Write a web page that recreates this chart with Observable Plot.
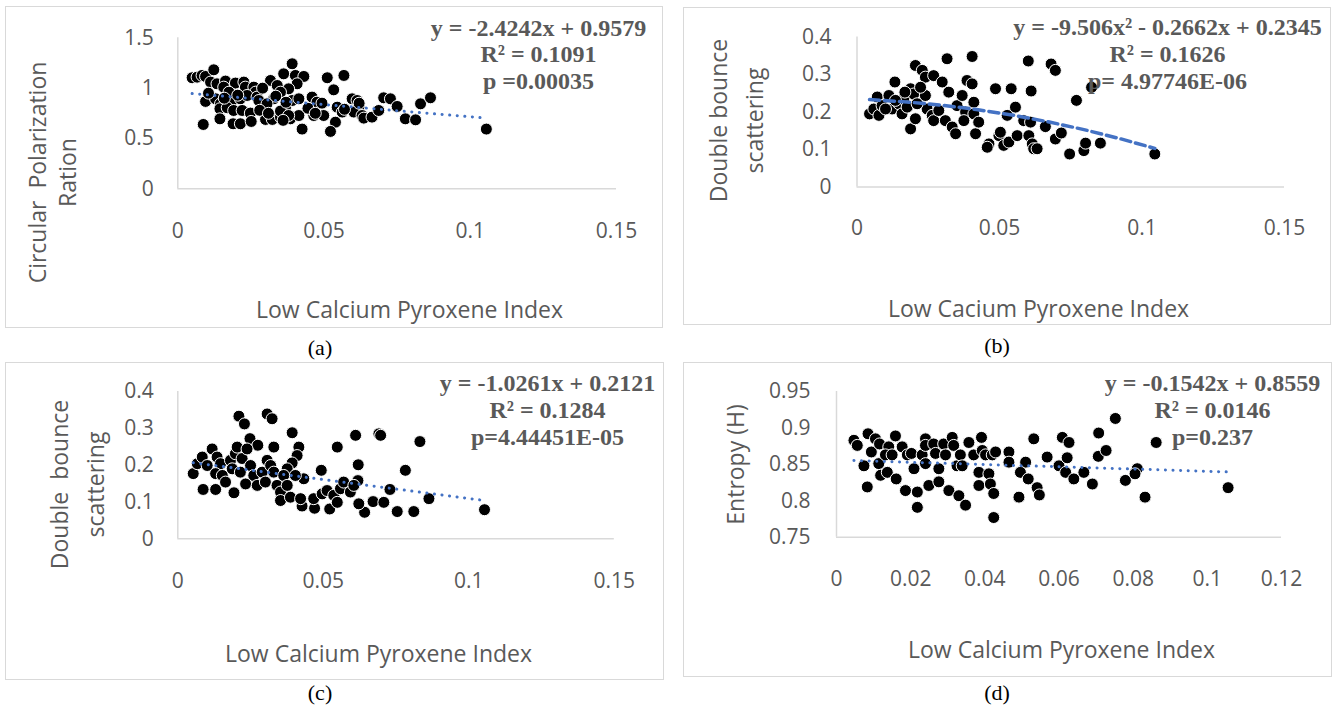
<!DOCTYPE html>
<html><head><meta charset="utf-8">
<script src="https://cdn.jsdelivr.net/npm/d3@7"></script>
<script src="https://cdn.jsdelivr.net/npm/@observablehq/plot@0.6"></script>
<style>
html,body{margin:0;padding:0;background:#fff;}
#root{position:relative;width:1335px;height:709px;overflow:hidden;background:#fff;}
.panel{position:absolute;}
.panel svg{position:absolute;left:0;top:0;}
.frame{position:absolute;left:0;top:0;right:0;bottom:0;border:1.5px solid #d9d9d9;box-sizing:border-box;pointer-events:none;}
.cap{position:absolute;font-family:"Liberation Serif","Times New Roman",serif;font-size:22px;color:#000;transform:translate(-50%,-50%);white-space:nowrap;}
</style></head><body><div id="root"></div>
<script>
// ---------- data ----------
const xTicks015 = [0, 0.05, 0.1, 0.15];
const xTicks012 = [0, 0.02, 0.04, 0.06, 0.08, 0.1, 0.12];
const yTicksA = [0, 0.5, 1, 1.5];
const yTicksBC = [0, 0.1, 0.2, 0.3, 0.4];
const yTicksD = [0.75, 0.8, 0.85, 0.9, 0.95];

const pointsA = [
[0.0049,1.103],[0.0066,1.109],[0.0083,1.126],[0.0095,1.116],[0.0123,1.182],[0.0112,1.06],[0.0134,1.043],[0.0163,1.07],[0.0157,1.01],[0.0197,1.05],[0.0226,1.06],[0.0231,1.01],[0.026,1.01],[0.0266,0.96],[0.0095,0.868],[0.0129,0.894],[0.0146,0.844],[0.0186,0.877],[0.0214,0.894],[0.0237,0.927],[0.0271,0.911],[0.0277,0.877],[0.0144,0.795],[0.0169,0.805],[0.0191,0.778],[0.022,0.778],[0.0248,0.752],[0.0087,0.639],[0.0144,0.695],[0.0189,0.646],[0.0214,0.646],[0.0251,0.669],[0.03,0.689],[0.0323,0.689],[0.0351,0.712],[0.0385,0.695],[0.0414,0.728],[0.0425,0.593],[0.0317,1.076],[0.034,1.026],[0.0362,1.142],[0.0391,1.242],[0.0402,1.126],[0.0431,1.116],[0.0408,1.043],[0.0379,0.993],[0.0351,0.96],[0.0328,0.894],[0.0305,0.844],[0.0368,0.805],[0.0351,0.772],[0.0391,0.877],[0.0414,0.894],[0.0379,0.728],[0.0459,0.911],[0.0476,0.861],[0.0493,0.851],[0.0465,0.728],[0.0499,0.728],[0.0511,1.103],[0.0568,1.126],[0.0533,0.983],[0.0545,0.811],[0.0562,0.762],[0.0539,0.662],[0.0522,0.57],[0.0596,0.894],[0.0613,0.877],[0.0619,0.811],[0.0602,0.762],[0.063,0.728],[0.0636,0.702],[0.0664,0.712],[0.0687,0.778],[0.0704,0.904],[0.0727,0.894],[0.075,0.818],[0.0778,0.695],[0.0813,0.685],[0.083,0.844],[0.0864,0.904],[0.1055,0.593],
[0.0175,0.96],[0.0205,0.93],[0.028,0.78],[0.031,0.75],[0.0335,0.92],[0.037,0.86],[0.0445,0.80],[0.062,0.85],[0.057,0.79],[0.0105,0.95],[0.0159,0.9],[0.029,1.0],[0.036,0.68],[0.047,0.75]
];
const pointsB = [
[0.0044,0.195],[0.0059,0.208],[0.0077,0.191],[0.0071,0.240],[0.0088,0.217],[0.0112,0.244],[0.0123,0.208],[0.0133,0.280],[0.0147,0.222],[0.0158,0.195],[0.0164,0.235],[0.0176,0.213],[0.0188,0.262],[0.0199,0.248],[0.0188,0.155],[0.0205,0.182],[0.0205,0.324],[0.0229,0.311],[0.024,0.293],[0.024,0.244],[0.0246,0.208],[0.0269,0.297],[0.0264,0.191],[0.0269,0.177],[0.0287,0.204],[0.0299,0.280],[0.031,0.177],[0.0316,0.342],[0.0322,0.253],[0.0334,0.160],[0.0346,0.142],[0.0351,0.217],[0.0369,0.244],[0.0381,0.200],[0.0386,0.284],[0.0404,0.348],[0.0404,0.275],[0.041,0.226],[0.041,0.195],[0.0416,0.142],[0.0427,0.173],[0.0375,0.177],[0.0463,0.115],[0.0457,0.106],[0.0486,0.262],[0.0498,0.137],[0.0503,0.146],[0.0515,0.111],[0.0533,0.120],[0.0527,0.191],[0.0541,0.262],[0.0556,0.213],[0.0562,0.137],[0.0585,0.177],[0.0601,0.336],[0.0603,0.137],[0.0609,0.173],[0.0611,0.256],[0.0615,0.115],[0.062,0.102],[0.0632,0.102],[0.0661,0.161],[0.0681,0.328],[0.0696,0.311],[0.0696,0.128],[0.0717,0.144],[0.0746,0.088],[0.077,0.231],[0.0796,0.097],[0.0802,0.117],[0.0823,0.266],[0.0854,0.117],[0.1045,0.088],
[0.01,0.208],[0.0135,0.231],[0.0168,0.253],[0.0211,0.222],[0.0223,0.266]
];
const pointsC = [
[0.0053,0.177],[0.0087,0.134],[0.013,0.134],[0.0193,0.125],[0.021,0.333],[0.0229,0.312],[0.0307,0.339],[0.0324,0.326],[0.0248,0.272],[0.0275,0.254],[0.033,0.249],[0.0393,0.288],[0.0416,0.249],[0.041,0.226],[0.0393,0.206],[0.0376,0.19],[0.0433,0.163],[0.0427,0.089],[0.047,0.083],[0.0522,0.081],[0.0493,0.186],[0.0548,0.249],[0.0611,0.281],[0.0691,0.285],[0.0697,0.281],[0.0832,0.264],[0.062,0.201],[0.0619,0.158],[0.0729,0.134],[0.0782,0.186],[0.0863,0.109],[0.0671,0.101],[0.0708,0.099],[0.0642,0.072],[0.0754,0.074],[0.0811,0.074],[0.1054,0.079],
[0.0067,0.204],[0.0084,0.222],[0.0101,0.199],[0.0118,0.244],[0.0135,0.222],[0.0147,0.204],[0.013,0.177],[0.0153,0.172],[0.0164,0.154],[0.0181,0.213],[0.0198,0.231],[0.0204,0.249],[0.0187,0.19],[0.0215,0.181],[0.0221,0.218],[0.0238,0.244],[0.025,0.199],[0.0261,0.172],[0.0233,0.149],[0.0273,0.145],[0.029,0.181],[0.0307,0.213],[0.0319,0.199],[0.0301,0.154],[0.033,0.181],[0.0341,0.145],[0.0353,0.127],[0.0364,0.172],[0.0376,0.145],[0.0353,0.104],[0.0387,0.113],[0.0404,0.172],[0.0422,0.109],
[0.0467,0.109],[0.0496,0.122],[0.0513,0.131],[0.0536,0.118],[0.0559,0.136],[0.057,0.154],[0.0593,0.127],[0.0605,0.145],[0.0622,0.095],[0.0548,0.099]
];
const pointsD = [
[0.0047,0.883],[0.0056,0.876],[0.0085,0.892],[0.0094,0.867],[0.0105,0.885],[0.0116,0.878],[0.0074,0.848],[0.0083,0.819],[0.0114,0.851],[0.0119,0.835],[0.0137,0.839],[0.0141,0.874],[0.0159,0.889],[0.0161,0.83],[0.0132,0.863],[0.015,0.863],[0.0177,0.874],[0.0191,0.863],[0.0202,0.865],[0.0186,0.814],[0.0209,0.844],[0.0218,0.812],[0.0218,0.791],[0.0231,0.863],[0.024,0.885],[0.024,0.851],[0.0249,0.821],[0.024,0.876],[0.0262,0.878],[0.0267,0.865],[0.0276,0.844],[0.0276,0.826],[0.0289,0.878],[0.0294,0.863],[0.0303,0.814],[0.0312,0.887],[0.0316,0.876],[0.0325,0.848],[0.033,0.807],[0.0334,0.863],[0.0339,0.848],[0.0348,0.794],[0.0357,0.88],[0.037,0.863],[0.0384,0.839],[0.0391,0.887],[0.0393,0.869],[0.0402,0.863],[0.0384,0.821],[0.0411,0.837],[0.0415,0.823],[0.0424,0.81],[0.042,0.863],[0.0429,0.867],[0.0465,0.867],[0.0465,0.853],[0.0424,0.777],[0.0492,0.805],[0.051,0.853],[0.0496,0.839],[0.0517,0.83],[0.0532,0.885],[0.0541,0.818],[0.0547,0.808],[0.0568,0.86],[0.06,0.848],[0.0609,0.887],[0.0618,0.839],[0.0627,0.88],[0.0622,0.859],[0.064,0.83],[0.0667,0.839],[0.069,0.823],[0.0706,0.861],[0.0707,0.893],[0.0727,0.869],[0.0752,0.913],[0.0779,0.828],[0.0811,0.844],[0.0805,0.837],[0.0832,0.805],[0.0862,0.88],[0.1056,0.818]
];

// trendline points
const trendA = [[0.0049,0.946],[0.1055,0.702]];
const trendB = [[0.0044,0.2331],[0.0175,0.2269],[0.03,0.2180],[0.0425,0.2060],[0.055,0.1911],[0.0675,0.1732],[0.08,0.1524],[0.0925,0.1285],[0.1045,0.1029]];
const trendC = [[0.0053,0.2067],[0.1054,0.1040]];
const trendD = [[0.0047,0.8552],[0.1056,0.8396]];

const eqA = "y = -2.4242x + 0.9579\nR² = 0.1091\np =0.00035";
const eqB = "y = -9.506x² - 0.2662x + 0.2345\nR² = 0.1626\np= 4.97746E-06";
const eqC = "y = -1.0261x + 0.2121\nR² = 0.1284\np=4.44451E-05";
const eqD = "y = -0.1542x + 0.8559\nR² = 0.0146\np=0.237";

const xTitleA = "Low Calcium Pyroxene Index";
const xTitleB = "Low Cacium Pyroxene Index";
const yTitleA = "Circular\u00a0 Polarization\nRation";
const yTitleB = "Double bounce\nscattering";
const yTitleC = "Double\u00a0 bounce\nscattering";
const yTitleD = "Entropy (H)";
const captions = ["(a)", "(b)", "(c)", "(d)"];

// ---------- drawing ----------
const GREY = "#595959";
const root = document.getElementById("root");
const dotted = {strokeWidth: 3, strokeDasharray: "0.1 7.5", strokeLinecap: "round"};
const dashed = {strokeWidth: 3.5, strokeDasharray: "10 5"};

// o: page-pixel layout of the panel box, its plot frame and its texts
function panel(o) {
  const mL = o.fx0 - o.left, mR = o.left + o.width - o.fx1;
  const mT = o.fyTop - o.top, mB = o.top + o.height - o.fyBottom;
  // anchor texts at frame top-left, offset to the wanted page position
  const at = (px, py) => ({frameAnchor: "top-left", dx: px - o.fx0, dy: py - o.fyTop});
  const svg = Plot.plot({
    width: o.width, height: o.height,
    marginLeft: mL, marginRight: mR, marginTop: mT, marginBottom: mB,
    x: {domain: o.xDomain},
    y: {domain: o.yDomain},
    style: {fontFamily: "'Open Sans', sans-serif", fontSize: "21px", color: GREY, background: "transparent", overflow: "visible"},
    marks: [
      Plot.ruleY([o.yDomain[0]], {stroke: "#d9d9d9", strokeWidth: 1.5}),
      Plot.ruleX([0], {stroke: "#d9d9d9", strokeWidth: 1.5}),
      Plot.axisX({ticks: o.xTicks, tickFormat: d => String(d), tickSize: 0, tickPadding: o.xPad, label: null, fill: GREY}),
      Plot.axisY({ticks: o.yTicks, tickFormat: d => String(d), tickSize: 0, tickPadding: o.yPad, label: null, fill: GREY}),
      Plot.dot(o.points, {x: d => d[0], y: d => d[1], r: 6, fill: "#000", stroke: "#fff", strokeWidth: 1}),
      Plot.line(o.trend, {x: d => d[0], y: d => d[1], stroke: "#4472C4", ...o.trendStyle}),
      Plot.text([o.eq], {text: d => d, ...at(o.eqX, o.eqY), textAnchor: "middle", lineAnchor: "middle", lineHeight: 1.11,
        fontFamily: "'Liberation Serif', 'Times New Roman', serif", fontWeight: "bold", fontSize: 24, fill: GREY}),
      Plot.text([o.xTitle], {text: d => d, ...at(o.xtX, o.xtY), textAnchor: "middle", lineAnchor: "middle", fontSize: 23, fill: GREY}),
      Plot.text([o.yTitle], {text: d => d, ...at(o.ytX, o.ytY), rotate: -90, textAnchor: "middle", lineAnchor: "middle",
        lineHeight: o.ytGap / 23, fontSize: 23, fill: GREY})
    ]
  });
  const div = document.createElement("div");
  div.className = "panel";
  Object.assign(div.style, {left: o.left + "px", top: o.top + "px", width: o.width + "px", height: o.height + "px"});
  div.appendChild(svg);
  const fr = document.createElement("div"); fr.className = "frame"; div.appendChild(fr);
  root.appendChild(div);
  const cap = document.createElement("div"); cap.className = "cap";
  cap.textContent = o.caption;
  Object.assign(cap.style, {left: o.capX + "px", top: o.capY + "px"});
  root.appendChild(cap);
}

panel({left: 5, top: 6, width: 658, height: 322, fx0: 177.3, fx1: 616, fyTop: 37.3, fyBottom: 188.3,
  xDomain: [0, 0.15], yDomain: [0, 1.5], xTicks: xTicks015, yTicks: yTicksA, xPad: 34, yPad: 24,
  points: pointsA, trend: trendA, trendStyle: dotted, eq: eqA, eqX: 538, eqY: 53.3,
  xTitle: xTitleA, xtX: 409, xtY: 310, yTitle: yTitleA, ytX: 51, ytY: 172, ytGap: 30,
  caption: captions[0], capX: 320, capY: 348});
panel({left: 683, top: 7, width: 648, height: 318, fx0: 856.5, fx1: 1284, fyTop: 36.5, fyBottom: 186.5,
  xDomain: [0, 0.15], yDomain: [0, 0.4], xTicks: xTicks015, yTicks: yTicksBC, xPad: 33, yPad: 25.5,
  points: pointsB, trend: trendB, trendStyle: dashed, eq: eqB, eqX: 1167, eqY: 53,
  xTitle: xTitleB, xtX: 1038, xtY: 309, yTitle: yTitleB, ytX: 732.5, ytY: 120, ytGap: 36,
  caption: captions[1], capX: 997, capY: 346});
panel({left: 5, top: 362, width: 659, height: 318, fx0: 177.3, fx1: 613.8, fyTop: 391, fyBottom: 538.3,
  xDomain: [0, 0.15], yDomain: [0, 0.4], xTicks: xTicks015, yTicks: yTicksBC, xPad: 34.5, yPad: 24,
  points: pointsC, trend: trendC, trendStyle: dotted, eq: eqC, eqX: 547, eqY: 409,
  xTitle: xTitleA, xtX: 378, xtY: 654, yTitle: yTitleC, ytX: 73.8, ytY: 484, ytGap: 36.5,
  caption: captions[2], capX: 320, capY: 693});
panel({left: 683, top: 362, width: 649, height: 315, fx0: 836, fx1: 1281, fyTop: 391, fyBottom: 536.7,
  xDomain: [0, 0.12], yDomain: [0.75, 0.95], xTicks: xTicks012, yTicks: yTicksD, xPad: 34, yPad: 26,
  points: pointsD, trend: trendD, trendStyle: dotted, eq: eqD, eqX: 1212, eqY: 409,
  xTitle: xTitleA, xtX: 1061, xtY: 650, yTitle: yTitleD, ytX: 733.6, ytY: 464, ytGap: 30,
  caption: captions[3], capX: 997, capY: 693});
</script></body></html>
